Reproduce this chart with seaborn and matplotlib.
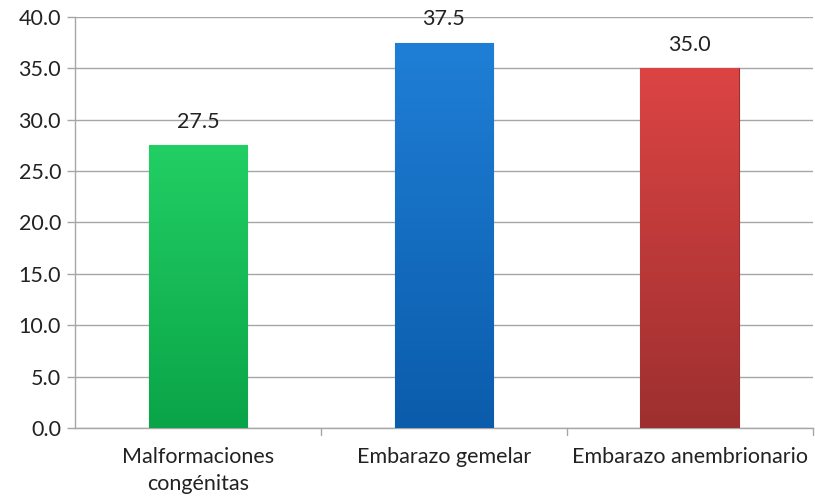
import numpy as np
import pandas as pd
import matplotlib
matplotlib.use("Agg")
import matplotlib.pyplot as plt
import seaborn as sns
from matplotlib.colors import LinearSegmentedColormap

# data
categorias = ["Malformaciones\ncongénitas", "Embarazo gemelar", "Embarazo anembrionario"]
valores = [27.5, 37.5, 35.0]
colores_top = ["#22cf64", "#1f7fd6", "#dc4444"]
colores_bot = ["#0aa448", "#0b5cab", "#9e2f2f"]
yticks = [0, 5, 10, 15, 20, 25, 30, 35, 40]

df = pd.DataFrame({"cat": categorias, "val": valores})

sns.set_style("white")
plt.rcParams["font.family"] = ["Lato", "DejaVu Sans"]

fig, ax = plt.subplots(figsize=(8.15, 5.01), dpi=100)
fig.subplots_adjust(left=0.092, right=0.997, top=0.966, bottom=0.146)

sns.barplot(data=df, x="cat", y="val", hue="cat", palette=colores_top,
            width=0.4, legend=False, ax=ax, zorder=3)

# vertical gradient in each bar, like the Excel bevel look
for patch, c1, c2 in zip(ax.patches, colores_top, colores_bot):
    x0, y0 = patch.get_x(), patch.get_y()
    w, h = patch.get_width(), patch.get_height()
    cmap = LinearSegmentedColormap.from_list("g", [c2, c1])
    grad = np.linspace(0, 1, 256).reshape(-1, 1)
    im = ax.imshow(grad, cmap=cmap, aspect="auto", origin="lower",
                   extent=[x0, x0 + w, y0, y0 + h], zorder=3.5)
    im.set_clip_path(patch)
    patch.set_edgecolor(c2)
    patch.set_linewidth(0.8)
    ax.text(x0 + w / 2, h + 1.3, f"{h:.1f}", ha="center", va="bottom",
            fontsize=15.5, color="#222222")

ax.set_xlim(-0.5, 2.5)
ax.set_ylim(0, 40)
ax.set_yticks(yticks)
ax.set_yticklabels([f"{v:.1f}" for v in yticks], fontsize=15.5, color="#222222")
ax.set_xticks([0, 1, 2])
ax.set_xticklabels(categorias, fontsize=15.5, color="#222222", linespacing=1.4)
ax.tick_params(axis="x", length=0, pad=14)
ax.tick_params(axis="y", length=6, width=1, color="#a6a6a6", left=True, pad=4)
ax.set_xlabel("")
ax.set_ylabel("")

ax.yaxis.grid(True, color="#a6a6a6", linewidth=1, zorder=0)
ax.set_axisbelow(True)
for s in ["top", "right"]:
    ax.spines[s].set_visible(False)
for s in ["left", "bottom"]:
    ax.spines[s].set_color("#a6a6a6")
    ax.spines[s].set_linewidth(1)

# small category separators under the axis
for xs in [0.5, 1.5, 2.5]:
    ax.plot([xs, xs], [0, -0.7], color="#a6a6a6", lw=1, clip_on=False)

fig.savefig("out.png", dpi=100)
